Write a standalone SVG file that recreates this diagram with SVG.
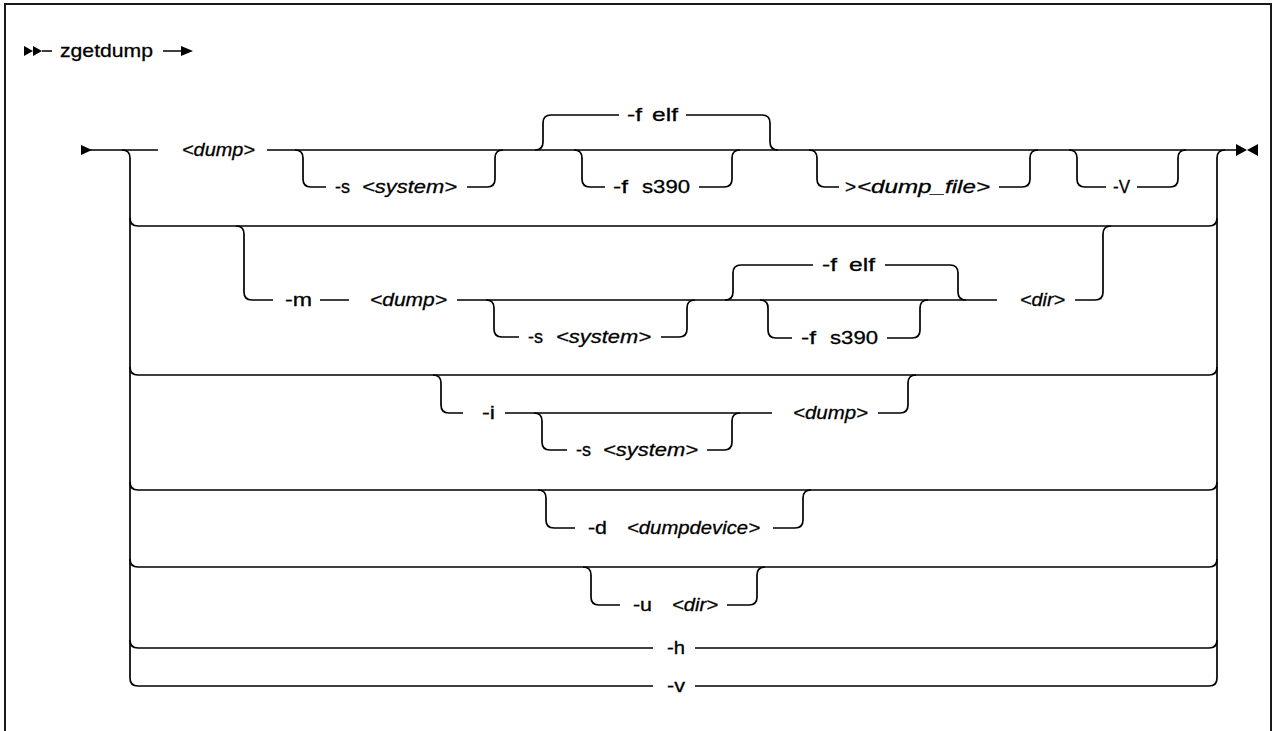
<svg xmlns="http://www.w3.org/2000/svg" width="1274" height="731" viewBox="0 0 1274 731">
<style>
.ln{fill:none;stroke:#000;stroke-width:1.7;stroke-linecap:butt;stroke-linejoin:round}
.fr{fill:none;stroke:#1a1a1a;stroke-width:2}
.t{font-family:"Liberation Sans",Arial,sans-serif;font-size:19px;fill:#000;stroke:#000;stroke-width:0.3}
.i{font-style:italic}
.ar{fill:#000}
</style>
<rect width="1274" height="731" fill="#fff"/>
<path class="fr" d="M5,740 L5,4 L1271,4 L1271,740"/>

<g id="header">
  <polygon class="ar" points="24,46 33,51 24,56"/>
  <polygon class="ar" points="33,46 42,51 33,56"/>
  <text class="t" x="60" y="57" textLength="93" lengthAdjust="spacingAndGlyphs">zgetdump</text>
  <polygon class="ar" points="181,46 193,51 181,56"/>
</g>

<g id="connectors">
  <path class="ln" d="M42,51 H52 M163,51 H182"/>
  <!-- start / end -->
  <polygon class="ar" points="81,145 92,150 81,155"/>
  <polygon class="ar" points="1236,144 1247,150 1236,156"/>
  <polygon class="ar" points="1258,144 1247,150 1258,156"/>
  <!-- row 1 main line -->
  <path class="ln" d="M90,150 H158 M267,150 H1237"/>
  <!-- left and right rails -->
  <path class="ln" d="M122,150 Q130,150 130,158 V678 Q130,686 138,686 H653 M695,686 H1209 Q1217,686 1217,678 V158 Q1217,150 1225,150"/>
  <!-- row 1 branches -->
  <path class="ln" d="M295,150 Q303,150 303,158 V179 Q303,187 311,187 H326 M467,187 H487 Q495,187 495,179 V158 Q495,150 503,150"/>
  <path class="ln" d="M535,150 Q543,150 543,142 V123 Q543,115 551,115 H619 M686,115 H762 Q770,115 770,123 V142 Q770,150 778,150"/>
  <path class="ln" d="M574,150 Q582,150 582,158 V179 Q582,187 590,187 H605 M699,187 H724 Q732,187 732,179 V158 Q732,150 740,150"/>
  <path class="ln" d="M809,150 Q817,150 817,158 V179 Q817,187 825,187 H839 M999,187 H1022 Q1030,187 1030,179 V158 Q1030,150 1038,150"/>
  <path class="ln" d="M1069,150 Q1077,150 1077,158 V179 Q1077,187 1085,187 H1106 M1137,187 H1170 Q1178,187 1178,179 V158 Q1178,150 1186,150"/>
  <!-- row 2 -->
  <path class="ln" d="M130,218 Q130,226 138,226 H1209 Q1217,226 1217,218"/>
  <path class="ln" d="M236,226 Q244,226 244,234 V292 Q244,300 252,300 H273 M320,300 H349 M457,300 H997 M1075,300 H1095 Q1103,300 1103,292 V234 Q1103,226 1111,226"/>
  <path class="ln" d="M486,300 Q494,300 494,308 V329 Q494,337 502,337 H519 M661,337 H679 Q687,337 687,329 V308 Q687,300 695,300"/>
  <path class="ln" d="M725,300 Q733,300 733,292 V273 Q733,265 741,265 H813 M885,265 H950 Q958,265 958,273 V292 Q958,300 966,300"/>
  <path class="ln" d="M760,300 Q768,300 768,308 V330 Q768,338 776,338 H792 M887,338 H912 Q920,338 920,330 V308 Q920,300 928,300"/>
  <!-- row 3 -->
  <path class="ln" d="M130,367 Q130,375 138,375 H1209 Q1217,375 1217,367"/>
  <path class="ln" d="M433,375 Q441,375 441,383 V405 Q441,413 449,413 H463 M505,413 H772 M878,413 H900 Q908,413 908,405 V383 Q908,375 916,375"/>
  <path class="ln" d="M534,413 Q542,413 542,421 V442 Q542,450 550,450 H567 M707,450 H724 Q732,450 732,442 V421 Q732,413 740,413"/>
  <!-- row 4 -->
  <path class="ln" d="M130,482 Q130,490 138,490 H1209 Q1217,490 1217,482"/>
  <path class="ln" d="M538,490 Q546,490 546,498 V520 Q546,528 554,528 H575 M773,528 H795 Q803,528 803,520 V498 Q803,490 811,490"/>
  <!-- row 5 -->
  <path class="ln" d="M130,559 Q130,567 138,567 H1209 Q1217,567 1217,559"/>
  <path class="ln" d="M583,567 Q591,567 591,575 V597 Q591,605 599,605 H620 M727,605 H749 Q757,605 757,597 V575 Q757,567 765,567"/>
  <!-- row 6 -->
  <path class="ln" d="M130,640 Q130,648 138,648 H653 M695,648 H1209 Q1217,648 1217,640"/>
</g>

<g id="row1-dump"><text class="t i" x="182" y="156" textLength="73" lengthAdjust="spacingAndGlyphs">&lt;dump&gt;</text></g>
<g id="row1-system"><text class="t" x="335" y="193" textLength="15" lengthAdjust="spacingAndGlyphs">-s</text><text class="t i" x="362" y="193" textLength="95" lengthAdjust="spacingAndGlyphs">&lt;system&gt;</text></g>
<g id="row1-felf"><text class="t" x="627" y="121" textLength="15" lengthAdjust="spacingAndGlyphs">-f</text><text class="t" x="652" y="121" textLength="26" lengthAdjust="spacingAndGlyphs">elf</text></g>
<g id="row1-fs390"><text class="t" x="613" y="193" textLength="15" lengthAdjust="spacingAndGlyphs">-f</text><text class="t" x="642" y="193" textLength="48" lengthAdjust="spacingAndGlyphs">s390</text></g>
<g id="row1-dumpfile"><text class="t" x="845" y="193">&gt;</text><text class="t i" x="857" y="193" textLength="133" lengthAdjust="spacingAndGlyphs">&lt;dump_file&gt;</text></g>
<g id="row1-V"><text class="t" x="1113" y="193" textLength="17" lengthAdjust="spacingAndGlyphs">-V</text></g>

<g id="row2-m"><text class="t" x="285" y="306" textLength="27" lengthAdjust="spacingAndGlyphs">-m</text></g>
<g id="row2-dump"><text class="t i" x="370" y="306" textLength="77" lengthAdjust="spacingAndGlyphs">&lt;dump&gt;</text></g>
<g id="row2-system"><text class="t" x="528" y="343" textLength="15" lengthAdjust="spacingAndGlyphs">-s</text><text class="t i" x="556" y="343" textLength="95" lengthAdjust="spacingAndGlyphs">&lt;system&gt;</text></g>
<g id="row2-felf"><text class="t" x="822" y="271" textLength="15" lengthAdjust="spacingAndGlyphs">-f</text><text class="t" x="849" y="271" textLength="26" lengthAdjust="spacingAndGlyphs">elf</text></g>
<g id="row2-fs390"><text class="t" x="801" y="344" textLength="15" lengthAdjust="spacingAndGlyphs">-f</text><text class="t" x="830" y="344" textLength="48" lengthAdjust="spacingAndGlyphs">s390</text></g>
<g id="row2-dir"><text class="t i" x="1020" y="306" textLength="45" lengthAdjust="spacingAndGlyphs">&lt;dir&gt;</text></g>

<g id="row3-i"><text class="t" x="482" y="419" textLength="13" lengthAdjust="spacingAndGlyphs">-i</text></g>
<g id="row3-system"><text class="t" x="576" y="456" textLength="15" lengthAdjust="spacingAndGlyphs">-s</text><text class="t i" x="603" y="456" textLength="95" lengthAdjust="spacingAndGlyphs">&lt;system&gt;</text></g>
<g id="row3-dump"><text class="t i" x="793" y="419" textLength="75" lengthAdjust="spacingAndGlyphs">&lt;dump&gt;</text></g>

<g id="row4-d"><text class="t" x="588" y="534" textLength="19" lengthAdjust="spacingAndGlyphs">-d</text><text class="t i" x="627" y="534" textLength="133" lengthAdjust="spacingAndGlyphs">&lt;dumpdevice&gt;</text></g>
<g id="row5-u"><text class="t" x="633" y="611" textLength="19" lengthAdjust="spacingAndGlyphs">-u</text><text class="t i" x="672" y="611" textLength="46" lengthAdjust="spacingAndGlyphs">&lt;dir&gt;</text></g>
<g id="row6-h"><text class="t" x="667" y="654" textLength="18" lengthAdjust="spacingAndGlyphs">-h</text></g>
<g id="row7-v"><text class="t" x="667" y="692" textLength="18" lengthAdjust="spacingAndGlyphs">-v</text></g>
</svg>
